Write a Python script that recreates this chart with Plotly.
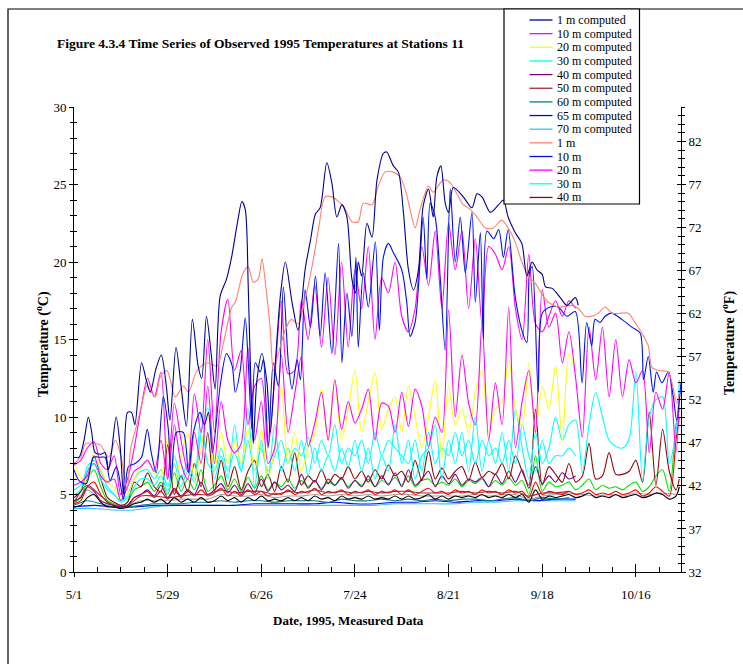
import pandas as pd
import plotly.graph_objects as go

START = pd.Timestamp("1995-05-01")

# ---- sampling days (days after 1 May 1995) ----
DAYS_C2 = list(range(0, 151, 2))             # computed series, every 2 days
DAYS_M2 = list(range(0, 181, 2)) + [181]     # measured series, every 2 days
DAYS_4 = list(range(0, 181, 4))
DAYS_C4 = list(range(0, 151, 4))
DAYS_C6 = list(range(0, 151, 6))

# ---- 1 m computed ----
navy_days = [0, 1.5, 3, 4.3, 5.3, 6.3, 8, 9.3, 10.3, 11.2, 12.6, 13.8, 14.8, 16, 17.2, 18.2,
             20.2, 21.6, 22.8, 24.5, 26.1, 27.6, 28.7, 30.5, 32, 33.6, 35.4, 37.1, 38.2, 39.6,
             41, 42.2, 43.7, 45.6, 47.2, 49, 50.2, 51.2, 52.1, 53, 53.6, 54.7, 56.2, 57.7, 58.7,
             60.2, 61.7, 63.2, 65.2, 67, 69.1, 70.7, 72.2, 73.6, 75.6, 77.1, 78.6, 80.1, 81.6,
             83.1, 84.2, 85, 86, 87.6, 89.1, 90.6, 92.5, 93.5, 95.5, 97, 98.5, 100, 101.5, 103,
             104.4, 106, 107.4, 108.5, 109.7, 111, 112, 113.4, 116.4, 119, 120.5, 122, 124.5,
             127, 128.4, 129.8, 131.9, 133.9, 135.4, 137, 138.4, 140, 141, 143, 145.4, 147.4,
             149.9, 150.8]
navy_vals = [7.4, 7.4, 8.5, 10.0, 9.0, 7.7, 7.6, 7.7, 6.6, 7.7, 10.0, 8.1, 5.0, 10.3, 10.3, 9.5,
             13.5, 12.4, 11.6, 13.1, 14.0, 12.0, 9.8, 14.5, 12.0, 9.4, 16.3, 13.3, 12.5, 16.5,
             14.1, 11.8, 17.8, 18.9, 20.4, 22.7, 23.9, 23.4, 18.4, 11.3, 8.3, 12.4, 14.1, 12.2, 9.0,
             13.5, 17.8, 20.0, 17.4, 15.6, 19.5, 21.4, 23.1, 23.5, 26.4, 25.1, 22.9, 23.7, 22.9,
             18.9, 18.0, 20.0, 19.1, 22.5, 21.6, 25.3, 27.0, 27.1, 26.2, 25.8, 23.2, 19.5, 18.2, 19.5,
             23.6, 24.7, 22.9, 25.5, 26.2, 23.8, 23.2, 24.8, 24.2, 23.5, 24.4, 24.2, 23.2,
             23.7, 24.0, 22.9, 21.9, 21.2, 19.1, 20.0, 19.5, 19.2, 18.4, 18.3, 17.7, 17.2,
             17.7, 17.2]

# ---- 1 m measured ----
sal_days = [0, 2, 3.5, 5.3, 7.9, 10.3, 12.4, 14, 15.9, 16.9, 18.9, 20.8, 21.8, 24.3, 25.8,
            27.8, 30.3, 32.7, 34.2, 36.8, 39.8, 42.8, 44.7, 47.2, 48.2, 50.6, 52.1, 53.6, 55.1,
            56.2, 57.2, 58.7, 59.6, 61, 63, 65, 67, 69, 71, 73.1, 75.1, 77.1, 79.1, 81.1, 83.1,
            85, 86.5, 89.1, 91, 93, 95.5, 97.5, 99, 100.5, 102, 103.5, 106, 107.4, 110.4, 112.5,
            114.5, 116.4, 118.5, 120.5, 123, 125.4, 127.9, 129.8, 131.9, 133.9, 135.8, 138, 140,
            141.8, 144.8, 148.9, 150.8, 152.8, 154.8, 156.8, 158.8, 160.8, 163.8, 165.7, 167.8,
            169.8, 171.7, 172.8, 174.8, 177.7, 179.2, 180.2, 181.2]
sal_vals = [7.0, 7.4, 8.3, 8.3, 8.2, 7.4, 8.5, 7.5, 5.3, 7.9, 9.6, 11.3, 12.0, 11.3, 12.6,
            13.0, 11.3, 12.0, 11.6, 13.0, 13.5, 13.3, 14.8, 17.1, 17.4, 19.3, 19.7, 18.7, 18.9,
            20.2, 18.7, 15.6, 13.0, 14.0, 15.5, 16.3, 16.0, 17.5, 19.5, 22.1, 24.2, 24.2, 23.9,
            23.4, 22.6, 22.6, 23.8, 23.7, 24.9, 25.8, 25.8, 25.5, 24.7, 23.4, 22.2, 23.4, 24.9,
            24.5, 25.3, 25.1, 24.4, 23.7, 23.4, 22.9, 22.2, 22.2, 22.7, 22.2, 21.3, 20.0, 19.1,
            18.6, 17.9, 17.4, 17.1, 17.2, 17.0, 16.5, 16.5, 16.7, 17.1, 16.7, 16.7, 16.7, 16.1,
            15.4, 14.6, 13.2, 13.0, 12.9, 11.8, 10.9, 11.8]

# ---- 10 m measured ----
blue_days = [0, 1.5, 3.7, 5.8, 7.8, 9.3, 10.8, 12.7, 14.8, 16.3,
             18.3, 20.2, 21.9, 23.1, 24.6, 26.7, 28.2, 29.1, 30.6, 32.7,
             34.2, 35.7, 37.7, 39, 40.2, 41.4, 43.7, 45.6, 47.3, 48.2,
             49.7, 51.2, 52.1, 53.2, 54.2, 55.7, 56.6, 58.1, 59.6, 61.1,
             62.6, 64.1, 65.2, 66.7, 67.7, 69.1, 70.7, 72.2, 73.6, 75.1,
             77.1, 79.1, 80.1, 81.6, 83.1, 84.3, 85, 86.5, 88, 90.1,
             91.3, 92.5, 94, 95.5, 98, 99.5, 100.5, 102, 103, 104.4,
             105.5, 106.5, 108, 109.5, 111, 112.5, 114, 115.5, 117, 119,
             120, 121.5, 122.4, 123.5, 125.5, 127, 128.4, 129.8, 131.9, 133.9,
             135.4, 136.2, 137, 138.8, 140, 142.4, 144.8, 147.4, 149.9, 151.9,
             153.3, 154.8, 155.8, 157.3, 158.8, 160.8, 163.8, 166.8, 169.3, 170.3,
             171.7, 173.2, 174.2, 175.8, 177.7, 179.2, 180.2, 181.5]
blue_vals = [6.6, 5.9, 5.7, 7.4, 7.4, 7.4, 5.9, 6.8, 4.7, 6.8,
             7.0, 7.4, 9.2, 7.7, 6.4, 11.3, 9.2, 5.9, 9.0, 9.0,
             6.4, 9.0, 10.3, 9.5, 10.3, 7.7, 12.0, 14.1, 13.3, 11.6,
             13.0, 16.4, 13.5, 9.2, 13.5, 12.9, 13.7, 8.1, 13.5, 12.0,
             18.4, 13.5, 11.8, 13.7, 12.4, 18.2, 15.8, 19.1, 15.2, 19.3,
             14.1, 21.2, 13.5, 18.0, 15.2, 20.3, 14.5, 19.3, 17.1, 21.3,
             15.6, 20.3, 21.2, 20.6, 19.5, 17.4, 15.2, 16.1, 18.4, 22.9,
             18.9, 23.8, 22.9, 19.0, 14.3, 24.7, 20.0, 22.9, 19.3, 23.2,
             17.4, 21.9, 15.0, 22.0, 21.5, 22.1, 20.3, 22.1, 17.8, 15.6,
             14.8, 19.3, 19.7, 11.6, 16.7, 17.1, 17.1, 16.5, 16.8, 12.2,
             16.1, 14.6, 16.3, 16.1, 16.5, 16.7, 16.3, 15.8, 15.4, 12.4,
             13.9, 11.6, 12.9, 12.2, 12.9, 11.3, 9.8, 12.2]

# ---- 10 m computed ----
mag_c_vals = [6.9, 7.2, 8.0, 8.4, 7.0, 6.6, 7.5, 5.0, 6.0, 8.0,
              10.5, 12.5, 11.3, 12.9, 6.0, 10.9, 8.5, 6.5, 11.5, 9.0,
              15.0, 9.0, 15.5, 17.6, 13.0, 14.3, 9.5, 12.0, 12.5, 8.0,
              12.5, 17.5, 12.8, 13.0, 17.5, 15.0, 18.5, 14.5, 19.0, 14.0,
              20.0, 14.5, 19.5, 17.0, 21.0, 15.0, 19.0, 18.0, 20.0, 16.5,
              15.5, 17.0, 21.0, 18.5, 22.0, 17.0, 22.5, 19.5, 22.0, 17.0,
              21.5, 16.0, 21.0, 20.5, 19.5, 21.0, 17.0, 15.0, 20.5, 16.0,
              15.5, 16.5, 17.5, 16.5, 17.5, 17.0]

# ---- 20 m measured ----
mag_m_vals = [5.6, 5.8, 6.2, 7.5, 6.2, 5.8, 6.0, 4.6, 5.5, 6.5,
              6.8, 7.2, 6.5, 8.5, 6.0, 9.5, 7.0, 6.0, 9.0, 7.0,
              12.0, 7.0, 11.0, 8.5, 7.7, 8.3, 14.5, 8.5, 11.0, 7.0,
              8.0, 14.0, 9.0, 11.5, 13.9, 8.1, 9.6, 11.6, 8.5, 12.4,
              9.2, 11.0, 9.6, 10.5, 11.8, 8.5, 10.9, 10.7, 9.0, 11.6,
              9.4, 11.8, 10.7, 8.1, 10.0, 9.0, 16.9, 10.0, 14.0, 10.9,
              9.5, 16.1, 8.5, 12.2, 9.5, 17.1, 8.0, 11.0, 13.0, 9.0,
              18.2, 15.8, 16.7, 13.5, 15.5, 12.5, 8.7, 15.8, 12.4, 15.8,
              11.3, 15.0, 11.3, 13.7, 12.2, 13.0, 7.7, 11.6, 10.5, 12.9,
              7.7, 11.5]

# ---- 20 m computed ----
yel_vals = [7.0, 6.1, 5.8, 7.8, 6.6, 5.8, 5.5, 4.7, 5.0, 6.0,
            6.8, 7.2, 6.4, 6.2, 8.7, 5.8, 7.5, 9.0, 6.0, 8.0,
            10.3, 6.5, 9.0, 7.0, 8.5, 7.0, 9.2, 6.5, 9.2, 6.0,
            8.0, 12.0, 7.0, 9.0, 6.5, 8.0, 9.0, 11.8, 8.5, 12.4,
            8.5, 10.5, 13.0, 9.0, 11.0, 12.9, 9.2, 10.5, 11.3, 9.0,
            12.0, 10.0, 8.0, 10.0, 12.4, 7.4, 12.0, 9.5, 10.5, 9.0,
            11.6, 13.0, 9.0, 10.5, 11.0, 13.7, 10.5, 9.4, 13.5, 9.0,
            12.0, 10.5, 13.3, 8.5, 14.1, 12.9]

# ---- 30 m computed ----
cyan_c_vals = [5.0, 5.3, 6.8, 7.2, 6.5, 5.5, 5.0, 4.6, 5.0, 6.0,
               6.5, 6.6, 6.0, 6.6, 5.5, 7.5, 6.0, 7.0, 6.0, 10.3,
               7.0, 6.5, 8.0, 6.5, 7.7, 6.5, 8.5, 6.5, 8.0, 6.5,
               7.5, 8.5, 7.0, 8.0, 7.5, 8.7, 7.0, 8.5, 7.5, 9.5,
               7.0, 8.0, 7.5, 8.5, 7.0, 9.0, 7.5, 8.5, 8.0, 7.5,
               7.0, 8.5, 6.5, 9.0, 7.0, 8.0, 7.5, 9.0, 7.5, 8.5,
               7.0, 8.5, 7.5, 8.0, 7.0, 8.5, 7.0, 9.5, 7.5, 6.5,
               8.5, 7.0, 7.5, 7.5, 8.0, 7.5]

# ---- 30 m measured ----
cyan_m_vals = [5.3, 5.6, 6.5, 7.0, 6.0, 5.3, 5.0, 4.5, 4.8, 5.5,
               6.0, 6.0, 5.6, 6.2, 5.2, 7.0, 5.5, 6.5, 5.8, 9.0,
               10.6, 6.0, 7.5, 6.0, 9.5, 6.5, 10.6, 5.5, 8.5, 6.0,
               9.5, 6.5, 8.0, 6.5, 8.5, 6.2, 8.0, 6.5, 7.5, 6.5,
               8.0, 6.8, 8.5, 6.5, 8.0, 6.0, 7.5, 6.5, 9.5, 7.0,
               8.5, 6.0, 7.5, 8.0, 9.5, 6.0, 8.5, 7.0, 9.0, 6.5,
               10.0, 6.5, 8.5, 7.0, 9.0, 6.5, 10.5, 8.0, 6.0, 9.0,
               7.0, 8.0, 10.0, 8.5, 9.5, 9.8, 6.4, 9.5, 11.6, 10.0,
               8.5, 8.1, 8.0, 8.6, 12.9, 5.9, 10.0, 11.1, 11.3, 7.0,
               9.0, 12.4]

# ---- 40 m computed ----
pur_vals = [4.6, 4.8, 5.5, 5.2, 4.6, 4.4, 4.3, 4.2, 4.3, 4.8,
            5.0, 5.3, 4.9, 5.6, 4.8, 5.4, 4.9, 5.3, 5.0, 5.8,
            5.0, 5.3, 5.7, 5.1, 5.6, 5.0, 5.7, 5.1, 6.0, 5.2,
            5.8, 5.3, 5.6, 5.2, 6.3, 5.4, 5.9, 5.3, 6.0, 5.6,
            6.1, 5.4, 5.9, 5.5, 6.2, 5.5, 6.2, 5.6, 6.4, 5.5,
            6.6, 5.6, 6.0, 6.5, 5.5, 6.2, 5.7, 6.3, 5.6, 6.0,
            5.8, 6.1, 5.5, 6.3, 5.7, 6.5, 5.8, 6.6, 5.4, 6.8,
            5.7, 6.2, 5.8, 6.4, 6.0, 6.2]

# ---- 40 m measured ----
mar_vals = [4.8, 5.2, 6.5, 7.0, 6.0, 4.8, 4.5, 4.3, 4.5, 5.8,
            5.5, 6.4, 5.5, 5.2, 8.2, 5.0, 6.2, 5.2, 7.0, 5.5,
            9.0, 5.2, 7.2, 5.5, 6.8, 5.3, 6.5, 7.2, 5.5, 6.3,
            5.2, 6.8, 5.8, 7.7, 5.6, 6.2, 5.8, 6.6, 5.7, 6.3,
            6.0, 6.8, 6.0, 6.5, 5.8, 6.6, 6.0, 6.9, 6.2, 6.5,
            5.8, 7.2, 5.9, 7.8, 6.0, 6.7, 6.0, 6.5, 6.8, 5.9,
            7.1, 6.1, 6.5, 6.3, 7.0, 6.0, 7.5, 6.5, 5.6, 10.5,
            5.6, 6.8, 6.3, 5.8, 7.0, 5.8, 6.2, 8.3, 6.0, 6.2,
            7.7, 6.3, 6.3, 6.5, 7.2, 5.8, 10.3, 5.6, 9.2, 6.5,
            5.3, 6.0]

# ---- 50 m / 60 m / 65 m / 70 m measured ----
grn_vals = [4.5, 4.8, 6.0, 6.6, 5.5, 4.6, 4.4, 4.2, 4.5, 5.3,
            5.5, 5.8, 5.2, 5.8, 5.0, 6.4, 5.2, 6.0, 5.3, 6.6,
            5.2, 5.6, 6.2, 5.3, 6.0, 5.2, 6.1, 5.4, 6.2, 5.3,
            5.8, 5.5, 6.0, 5.4, 5.9, 5.5, 5.9, 5.4, 5.8, 5.6,
            6.0, 5.5, 5.9, 5.6, 6.0, 5.5, 5.9, 5.7, 6.1, 5.6,
            6.2, 5.5, 5.9, 6.0, 5.6, 5.8, 5.6, 6.0, 5.5, 5.9,
            5.7, 6.0, 5.5, 5.9, 5.6, 6.1, 5.6, 5.9, 5.0, 7.5,
            5.2, 5.8, 5.5, 5.6, 5.8, 5.3, 5.6, 6.0, 5.3, 5.6,
            5.4, 5.5, 5.3, 5.6, 5.8, 5.2, 5.5, 6.2, 6.6, 5.2,
            9.5, 10.5]
red_vals = [4.4, 4.6, 5.5, 5.8, 5.0, 4.5, 4.3, 4.2, 4.3, 4.8,
            5.0, 5.2, 4.8, 5.2, 4.7, 5.3, 4.8, 5.2, 4.9, 5.3,
            4.9, 5.1, 5.4, 4.9, 5.2, 4.9, 5.3, 5.0, 5.2, 4.9,
            5.1, 5.0, 5.3, 5.0, 5.2, 5.1, 5.4, 5.0, 5.2, 5.1,
            5.3, 5.0, 5.2, 5.1, 5.3, 5.0, 5.2, 5.1, 5.3, 5.0,
            5.3, 5.0, 5.2, 5.4, 5.1, 5.2, 5.0, 5.3, 5.1, 5.2,
            5.0, 5.3, 5.1, 5.2, 5.0, 5.3, 5.1, 5.2, 4.8, 5.8,
            5.0, 5.2, 5.1, 5.0, 5.2, 5.0, 5.1, 5.3, 5.0, 5.1,
            5.0, 5.2, 5.0, 5.1, 5.3, 4.9, 5.1, 5.5, 5.2, 4.9,
            8.5, 10.0]
blk_vals = [4.2, 4.3, 4.8, 5.0, 4.5, 4.2, 4.2, 4.1, 4.2, 4.4,
            4.5, 4.7, 4.5, 4.7, 4.4, 4.8, 4.5, 4.7, 4.5, 4.8,
            4.5, 4.6, 4.9, 4.6, 4.8, 4.5, 4.8, 4.6, 4.9, 4.6,
            4.7, 4.6, 4.8, 4.6, 4.8, 4.6, 4.9, 4.7, 4.8, 4.6,
            4.9, 4.7, 4.8, 4.7, 4.9, 4.7, 4.8, 4.7, 4.9, 4.7,
            4.9, 4.7, 4.8, 5.0, 4.7, 4.9, 4.7, 4.9, 4.8, 4.9,
            4.8, 5.0, 4.8, 4.9, 4.8, 5.0, 4.8, 5.0, 4.5, 5.3,
            4.7, 4.9, 4.8, 4.9, 5.0, 4.8, 4.9, 5.1, 4.8, 4.9,
            4.8, 5.0, 4.8, 4.9, 5.0, 4.8, 4.9, 5.1, 5.0, 4.7,
            4.9, 5.5]
gry_vals = [4.3, 5.3, 4.6, 4.3, 4.3, 4.6, 4.6, 4.6, 4.7, 4.7,
            4.7, 5.0, 4.9, 4.9, 5.0, 4.8, 4.9, 4.9, 5.0, 4.9,
            5.0, 4.9, 5.0, 4.9, 5.0, 5.0, 4.9, 4.9, 4.9, 4.9,
            5.0, 4.9, 5.0, 5.0, 4.7, 4.9, 5.0, 5.1, 5.0, 4.9,
            5.0, 4.9, 5.1, 5.0, 5.1, 5.0]

# ---- deep computed layers ----
c50_vals = [4.5, 5.6, 4.9, 4.3, 4.3, 4.9, 4.9, 4.8, 4.9, 5.0,
            5.0, 5.3, 5.1, 5.2, 5.2, 5.0, 5.2, 5.1, 5.3, 5.1,
            5.2, 5.1, 5.2, 5.1, 5.2, 5.2, 5.1, 5.1, 5.1, 5.2,
            5.1, 5.2, 5.1, 5.2, 4.9, 5.1, 5.1, 5.2]
c60_vals = [4.3, 4.6, 4.4, 4.2, 4.2, 4.3, 4.4, 4.4, 4.4, 4.5,
            4.5, 4.6, 4.5, 4.6, 4.6, 4.5, 4.6, 4.6, 4.6, 4.5,
            4.7, 4.6, 4.6, 4.7, 4.6, 4.7, 4.6, 4.7, 4.6, 4.7,
            4.7, 4.6, 4.7, 4.8, 4.6, 4.8, 4.7, 4.8]
c65_vals = [4.2, 4.3, 4.2, 4.2, 4.3, 4.3, 4.3, 4.3, 4.3, 4.4,
            4.4, 4.4, 4.4, 4.5, 4.4, 4.4, 4.5, 4.5, 4.6, 4.5,
            4.6, 4.6, 4.7, 4.6, 4.7, 4.7]
c70_vals = [4.1, 4.1, 4.0, 4.0, 4.2, 4.3, 4.3, 4.3, 4.3, 4.3,
            4.3, 4.3, 4.3, 4.3, 4.3, 4.3, 4.4, 4.4, 4.4, 4.4,
            4.5, 4.5, 4.6, 4.6, 4.6, 4.6]

# name -> (days, values, colour, shown in legend)
SERIES = {
    "1 m computed":  (navy_days, navy_vals, "#000090", True),
    "10 m computed": (DAYS_C2, mag_c_vals, "#FF00FF", True),
    "20 m computed": (DAYS_C2, yel_vals, "#FFFF00", True),
    "30 m computed": (DAYS_C2, cyan_c_vals, "#00FFFF", True),
    "40 m computed": (DAYS_C2, pur_vals, "#800080", True),
    "50 m computed": (DAYS_C4, c50_vals, "#A52A2A", True),
    "60 m computed": (DAYS_C4, c60_vals, "#008080", True),
    "65 m computed": (DAYS_C6, c65_vals, "#0000FF", True),
    "70 m computed": (DAYS_C6, c70_vals, "#38C0F8", True),
    "1 m":  (sal_days, sal_vals, "#FF8070", True),
    "10 m": (blue_days, blue_vals, "#0010F0", True),
    "20 m": (DAYS_M2, mag_m_vals, "#FF00FF", True),
    "30 m": (DAYS_M2, cyan_m_vals, "#00FFFF", True),
    "40 m": (DAYS_M2, mar_vals, "#8B0A0A", True),
    "50 m": (DAYS_M2, grn_vals, "#00E000", False),
    "60 m": (DAYS_M2, red_vals, "#FF0000", False),
    "65 m": (DAYS_4, gry_vals, "#A0A0A0", False),
    "70 m": (DAYS_M2, blk_vals, "#000000", False),
}

DRAW_ORDER = ["70 m computed", "65 m computed", "60 m computed", "65 m", "70 m", "60 m",
              "50 m computed", "50 m", "40 m computed", "40 m", "30 m computed", "30 m",
              "20 m computed", "20 m", "10 m computed", "10 m", "1 m", "1 m computed"]


def to_dates(days):
    return [START + pd.Timedelta(days=d) for d in days]


fig = go.Figure()
for name in DRAW_ORDER:
    days, vals, color, _ = SERIES[name]
    assert len(days) == len(vals), name
    fig.add_trace(go.Scatter(
        x=to_dates(days), y=vals, mode="lines", name=name,
        line=dict(color=color, width=1.1, shape="spline", smoothing=0.8),
        showlegend=False, hoverinfo="skip"))

# empty traces that carry the Fahrenheit ruler and the companion tick axes
fig.add_trace(go.Scatter(x=[], y=[], yaxis="y2", showlegend=False))
fig.add_trace(go.Scatter(x=[], y=[], yaxis="y3", showlegend=False))
fig.add_trace(go.Scatter(x=[], y=[], yaxis="y4", showlegend=False))
fig.add_trace(go.Scatter(x=[], y=[], xaxis="x2", showlegend=False))

W, H = 743, 664
ML, MR, MT, MB = 74, 62, 107, 92
PW, PH = W - ML - MR, H - MT - MB


def px(xp):
    return (xp - ML) / PW


def py(yp):
    return (H - MB - yp) / PH


SERIF = "Liberation Serif, Times New Roman, serif"
DAY_MS = 86400000
x_end = START + pd.Timedelta(days=181.5)

common_x = dict(type="date", range=[START, x_end], showgrid=False, zeroline=False,
                tick0="1995-05-01", dtick=28 * DAY_MS)
fig.update_layout(
    width=W, height=H,
    margin=dict(l=ML, r=MR, t=MT, b=MB),
    paper_bgcolor="white", plot_bgcolor="white",
    showlegend=False,
    font=dict(family=SERIF, color="black", size=13),
    title=dict(text="Figure 4.3.4 Time Series of Observed 1995 Temperatures at Stations 11",
               x=57 / W, xanchor="left", y=1 - 43 / H, yanchor="middle",
               xref="container", yref="container",
               font=dict(family=SERIF, size=13.5, weight=700, color="black")),
    xaxis=dict(**common_x, showline=True, linecolor="black", linewidth=1,
               ticks="inside", ticklen=8, tickcolor="black", tickwidth=1,
               tickformat="%-m/%-d", ticklabelstandoff=10,
               tickfont=dict(family=SERIF, size=13),
               minor=dict(tick0="1995-05-01", dtick=7 * DAY_MS, ticks="inside",
                          ticklen=5, tickcolor="black", showgrid=False)),
    xaxis2=dict(**common_x, overlaying="x", anchor="y", side="bottom",
                showline=False, showticklabels=False,
                ticks="outside", ticklen=4, tickcolor="black"),
    yaxis=dict(range=[0, 30], tick0=0, dtick=5, showgrid=False, zeroline=False,
               showline=True, linecolor="black", linewidth=1,
               ticks="outside", ticklen=4, tickcolor="black",
               tickfont=dict(family=SERIF, size=13),
               minor=dict(dtick=1, ticks="outside", ticklen=3, tickcolor="black",
                          showgrid=False)),
    yaxis3=dict(range=[0, 30], tick0=0, dtick=5, overlaying="y", side="left", anchor="x",
                showgrid=False, zeroline=False, showline=False, showticklabels=False,
                ticks="inside", ticklen=4, tickcolor="black",
                minor=dict(dtick=1, ticks="inside", ticklen=3, tickcolor="black",
                           showgrid=False)),
    yaxis2=dict(range=[32, 32 + 1.8 * 30], tick0=32, dtick=5, overlaying="y", side="right",
                anchor="x", showgrid=False, zeroline=False,
                showline=True, linecolor="black", linewidth=1,
                ticks="outside", ticklen=4, tickcolor="black",
                tickfont=dict(family=SERIF, size=13),
                minor=dict(dtick=1, ticks="outside", ticklen=3, tickcolor="black",
                           showgrid=False)),
    yaxis4=dict(range=[32, 32 + 1.8 * 30], tick0=32, dtick=5, overlaying="y", side="right",
                anchor="x", showgrid=False, zeroline=False, showline=False,
                showticklabels=False, ticks="inside", ticklen=4, tickcolor="black",
                minor=dict(dtick=1, ticks="inside", ticklen=3, tickcolor="black",
                           showgrid=False)),
)

shapes = []
annotations = []

# outer frame
shapes.append(dict(type="rect", xref="paper", yref="paper",
                   x0=px(8), x1=px(W + 10), y0=py(H + 10), y1=py(9),
                   line=dict(color="black", width=1.2), fillcolor="rgba(0,0,0,0)",
                   layer="above"))

# legend box
LEG_L, LEG_R, LEG_T, LEG_B = 504, 639.5, 9, 204
shapes.append(dict(type="rect", xref="paper", yref="paper",
                   x0=px(LEG_L), x1=px(LEG_R), y0=py(LEG_B), y1=py(LEG_T),
                   line=dict(color="black", width=1.2), fillcolor="white", layer="above"))
legend_names = [n for n, v in SERIES.items() if v[3]]
for i, name in enumerate(legend_names):
    yrow = 20 + 13.65 * i
    color = SERIES[name][2]
    shapes.append(dict(type="line", xref="paper", yref="paper",
                       x0=px(529.5), x1=px(552.5), y0=py(yrow), y1=py(yrow),
                       line=dict(color=color, width=1.3), layer="above"))
    annotations.append(dict(text=name, xref="paper", yref="paper",
                            x=px(555), y=py(yrow), xanchor="left", yanchor="middle",
                            showarrow=False, font=dict(family=SERIF, size=12, color="black")))

# axis titles
annotations.append(dict(text="<b>Temperature (<sup>o</sup>C)</b>", xref="paper", yref="paper",
                        x=px(42), y=py(344), textangle=-90, showarrow=False,
                        xanchor="center", yanchor="middle",
                        font=dict(family=SERIF, size=14, color="black")))
annotations.append(dict(text="<b>Temperature (<sup>o</sup>F)</b>", xref="paper", yref="paper",
                        x=px(728), y=py(343), textangle=-90, showarrow=False,
                        xanchor="center", yanchor="middle",
                        font=dict(family=SERIF, size=14, color="black")))
annotations.append(dict(text="<b>Date, 1995, Measured Data</b>", xref="paper", yref="paper",
                        x=px(348), y=py(620), showarrow=False,
                        xanchor="center", yanchor="middle",
                        font=dict(family=SERIF, size=13, color="black")))

fig.update_layout(shapes=shapes, annotations=annotations)
fig.write_html("out.html")
